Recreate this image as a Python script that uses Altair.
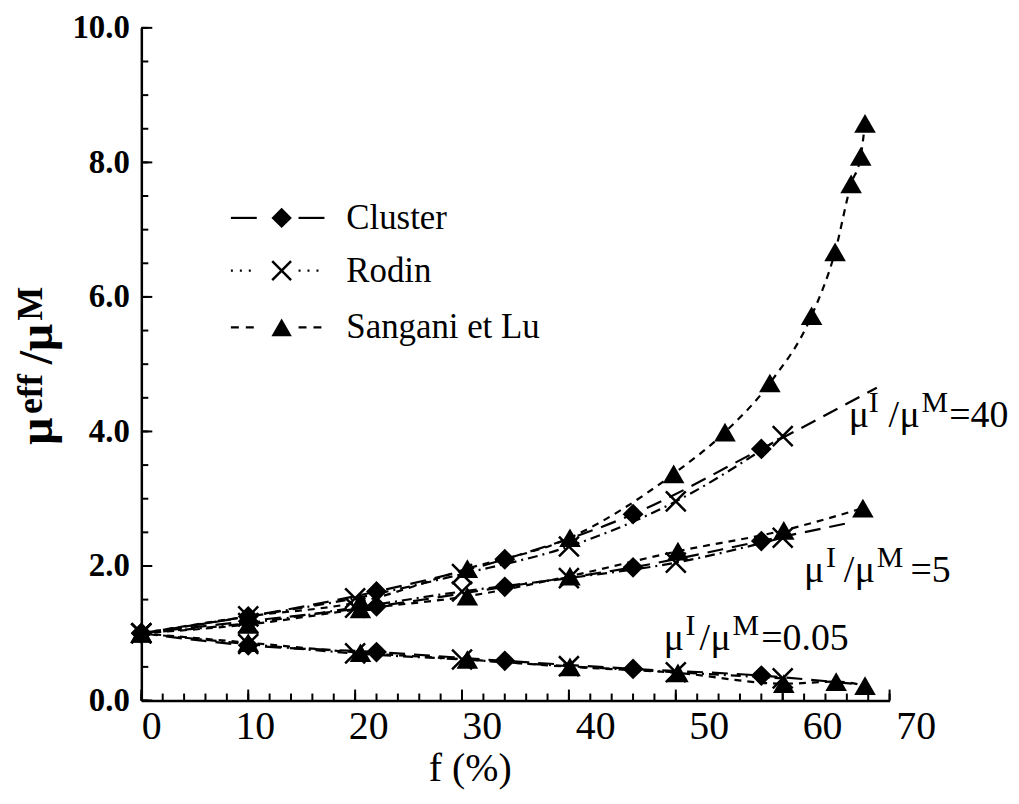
import altair as alt
import pandas as pd

# ---------------- data ----------------
models = ["Cluster", "Rodin", "Sangani et Lu"]

# Cluster (diamonds)
f_cluster = [0, 10, 22, 34, 46, 58]
cluster_40 = [1.0, 1.25, 1.62, 2.10, 2.77, 3.74]
cluster_5 = [1.0, 1.18, 1.40, 1.69, 1.98, 2.37]
cluster_005 = [1.0, 0.82, 0.72, 0.59, 0.47, 0.37]
# cluster curves continue past the last marker
cluster_ext_f = [68.8, 66.5, 66.5]
cluster_ext_v = [4.65, 2.65, 0.25]

# Rodin (crosses)
f_rodin = [0, 10, 20, 30, 40, 50, 60]
rodin_40 = [1.0, 1.25, 1.52, 1.88, 2.29, 2.96, 3.93]
rodin_5 = [1.0, 1.15, 1.38, 1.62, 1.82, 2.05, 2.42]
rodin_005 = [1.0, 0.84, 0.70, 0.61, 0.51, 0.42, 0.33]

# Sangani et Lu (triangles)
f_sang_40 = [0, 10, 20.5, 30.5, 40.1, 49.8, 54.6, 58.8, 62.7, 64.9, 66.4, 67.3, 67.7]
sang_40 = [1.0, 1.25, 1.47, 1.96, 2.42, 3.37, 3.99, 4.72, 5.72, 6.67, 7.68, 8.09, 8.58]
f_sang_5 = [0, 10, 20.5, 30.5, 40.1, 50.2, 60.1, 67.5]
sang_5 = [1.0, 1.13, 1.36, 1.55, 1.85, 2.22, 2.53, 2.86]
f_sang_005 = [0, 10, 20.5, 30.5, 40.1, 50.2, 60.1, 65.0, 67.7]
sang_005 = [1.0, 0.86, 0.71, 0.61, 0.50, 0.41, 0.25, 0.28, 0.22]

x_major = [0, 10, 20, 30, 40, 50, 60, 70]
x_minor = list(range(0, 71, 2))
y_major = [0, 2, 4, 6, 8, 10]
y_minor = [i * 0.5 for i in range(21)]

# ---------------- build table ----------------
rows = []
def add(model, ratio, fs, vs, marker=True):
    for f, v in zip(fs, vs):
        rows.append({"model": model, "ratio": ratio, "key": model + ratio,
                     "f": f, "v": v, "marker": marker})

add("Cluster", "40", f_cluster, cluster_40)
add("Cluster", "5", f_cluster, cluster_5)
add("Cluster", "0.05", f_cluster, cluster_005)
for r, fe, ve in zip(["40", "5", "0.05"], cluster_ext_f, cluster_ext_v):
    add("Cluster", r, [fe], [ve], marker=False)
add("Rodin", "40", f_rodin, rodin_40)
add("Rodin", "5", f_rodin, rodin_5)
add("Rodin", "0.05", f_rodin, rodin_005)
add("Sangani et Lu", "40", f_sang_40, sang_40)
add("Sangani et Lu", "5", f_sang_5, sang_5)
add("Sangani et Lu", "0.05", f_sang_005, sang_005)
df = pd.DataFrame(rows)

W, H = 752, 676
TOP = 26  # page y of plot top (8px margin + padding)
FONT = "Liberation Serif"
dashes = [[16, 9], [10, 5, 2, 5], [7, 6]]
shapes = ["diamond", "M-1,-1L1,1M1,-1L-1,1", "triangle-up"]

xscale = alt.Scale(domain=[0, 70], nice=False, zero=False)
yscale = alt.Scale(domain=[0, 10], nice=False)

xaxis = alt.Axis(values=x_major, format="d", ticks=False, tickSize=0, grid=False,
                 labelFont=FONT, labelFontSize=40, labelColor="black", labelPadding=6,
                 labelOffset={"expr": "datum.value * 0.66"},
                 domainColor="black", domainWidth=2.5,
                 title="f (%)", titleFont=FONT, titleFontSize=40, titleFontWeight="normal",
                 titleColor="black", titleX=330, titleY=80, titleBaseline="alphabetic",
                 titleAlign="center")
yaxis = alt.Axis(values=y_major, format=".1f", ticks=False, tickSize=0, grid=False,
                 labelFont=FONT, labelFontSize=33, labelFontWeight="bold", labelColor="black",
                 labelPadding=12, domainColor="black", domainWidth=2.5, title=None)

X = alt.X("f:Q", scale=xscale, axis=xaxis)
Y = alt.Y("v:Q", scale=yscale, axis=yaxis)

lines = alt.Chart(df).mark_line(color="black", strokeWidth=2.2, interpolate="monotone").encode(
    x=X, y=Y, detail="key:N",
    strokeDash=alt.StrokeDash("model:N", scale=alt.Scale(domain=models, range=dashes), legend=None),
)

pts = df[df["marker"]]
diam = alt.Chart(pts[pts.model == "Cluster"]).mark_point(
    shape="diamond", filled=True, color="black", size=440, opacity=1).encode(x="f:Q", y="v:Q")
cross = alt.Chart(pts[pts.model == "Rodin"]).mark_point(
    shape=shapes[1], filled=False, color="black", size=400, strokeWidth=2.5, opacity=1).encode(x="f:Q", y="v:Q")
tri = alt.Chart(pts[pts.model == "Sangani et Lu"]).mark_point(
    shape="triangle-up", filled=True, color="black", size=470, opacity=1).encode(x="f:Q", y="v:Q")

# inward tick marks
xt_minor = alt.Chart(pd.DataFrame({"f": x_minor})).mark_rule(color="black", strokeWidth=2).encode(
    x="f:Q", y=alt.value(H), y2=alt.value(H - 7))
xt_major = alt.Chart(pd.DataFrame({"f": x_major})).mark_rule(color="black", strokeWidth=2).encode(
    x="f:Q", y=alt.value(H), y2=alt.value(H - 11))
yt_minor = alt.Chart(pd.DataFrame({"v": y_minor})).mark_rule(color="black", strokeWidth=2).encode(
    y="v:Q", x=alt.value(0), x2=alt.value(7))
yt_major = alt.Chart(pd.DataFrame({"v": y_major})).mark_rule(color="black", strokeWidth=2).encode(
    y="v:Q", x=alt.value(0), x2=alt.value(11))

layers = [lines, diam, cross, tri, xt_minor, xt_major, yt_minor, yt_major]

# legend (drawn by hand); page y of rows 217, 270, 327
leg_y = [217 - TOP, 270 - TOP, 327 - TOP]
leg_dash = [[26, 100], [2, 7], [8, 7]]
for i, m in enumerate(models):
    one = pd.DataFrame({"label": [m]})
    for x1, x2 in [(90, 117), (158, 185)]:
        layers.append(alt.Chart(one).mark_rule(color="black", strokeWidth=2.2, strokeDash=leg_dash[i]).encode(
            x=alt.value(x1), x2=alt.value(x2), y=alt.value(leg_y[i])))
    if i == 1:
        layers.append(alt.Chart(one).mark_point(shape=shapes[1], filled=False, color="black", size=360,
                                                strokeWidth=2.5, opacity=1).encode(
            x=alt.value(141), y=alt.value(leg_y[i])))
    else:
        layers.append(alt.Chart(one).mark_point(shape=shapes[i], filled=True, color="black", size=420,
                                                opacity=1).encode(
            x=alt.value(141), y=alt.value(leg_y[i])))
    layers.append(alt.Chart(one).mark_text(align="left", baseline="middle", font=FONT, fontSize=35,
                                           color="black").encode(
        x=alt.value(206), y=alt.value(leg_y[i]), text="label:N"))


def piece(text, x, y, size, angle=0, weight="normal"):
    return alt.Chart(pd.DataFrame({"t": [text]})).mark_text(
        align="left", baseline="alphabetic", font=FONT, fontSize=size, angle=angle,
        fontWeight=weight, color="black"
    ).encode(x=alt.value(x), y=alt.value(y), text="t:N")

MAIN, SUP = 38, 30
# (text, plot x, page baseline y, size)
annotations = [
    [("μ", 711, 427, MAIN), ("I", 731, 412, SUP), ("/", 751, 427, MAIN), ("μ", 762, 427, MAIN),
     ("M", 784, 412, SUP), ("=40", 812, 427, MAIN)],
    [("μ", 666, 583, MAIN), ("I", 688, 568, SUP), ("/", 706, 583, MAIN), ("μ", 717, 583, MAIN),
     ("M", 739, 568, SUP), ("=5", 773, 583, MAIN)],
    [("μ", 525, 651, MAIN), ("I", 547, 636, SUP), ("/", 561, 651, MAIN), ("μ", 572, 651, MAIN),
     ("M", 594, 636, SUP), ("=0.05", 623, 651, MAIN)],
]
for ann in annotations:
    for t, x, y, s in ann:
        layers.append(piece(t, x, y - TOP, s))

# rotated y-axis title  mu^eff / mu^M  (plot x of baseline, page y of start)
ytitle = [("μ", -90, 445, 48), ("eff", -100, 414, 36), ("/μ", -90, 364, 48), ("M", -100, 320, 36)]
for t, x, y, s in ytitle:
    layers.append(piece(t, x, y - TOP, s, angle=270, weight="bold"))

chart = alt.layer(*layers).properties(
    width=W, height=H,
    autosize=alt.AutoSizeParams(type="none"),
    padding={"left": 134, "top": TOP - 8, "right": 122, "bottom": 92},
    background="white",
).configure_view(stroke=None)

chart.save("out.html", embed_options={"renderer": "svg", "actions": False})
